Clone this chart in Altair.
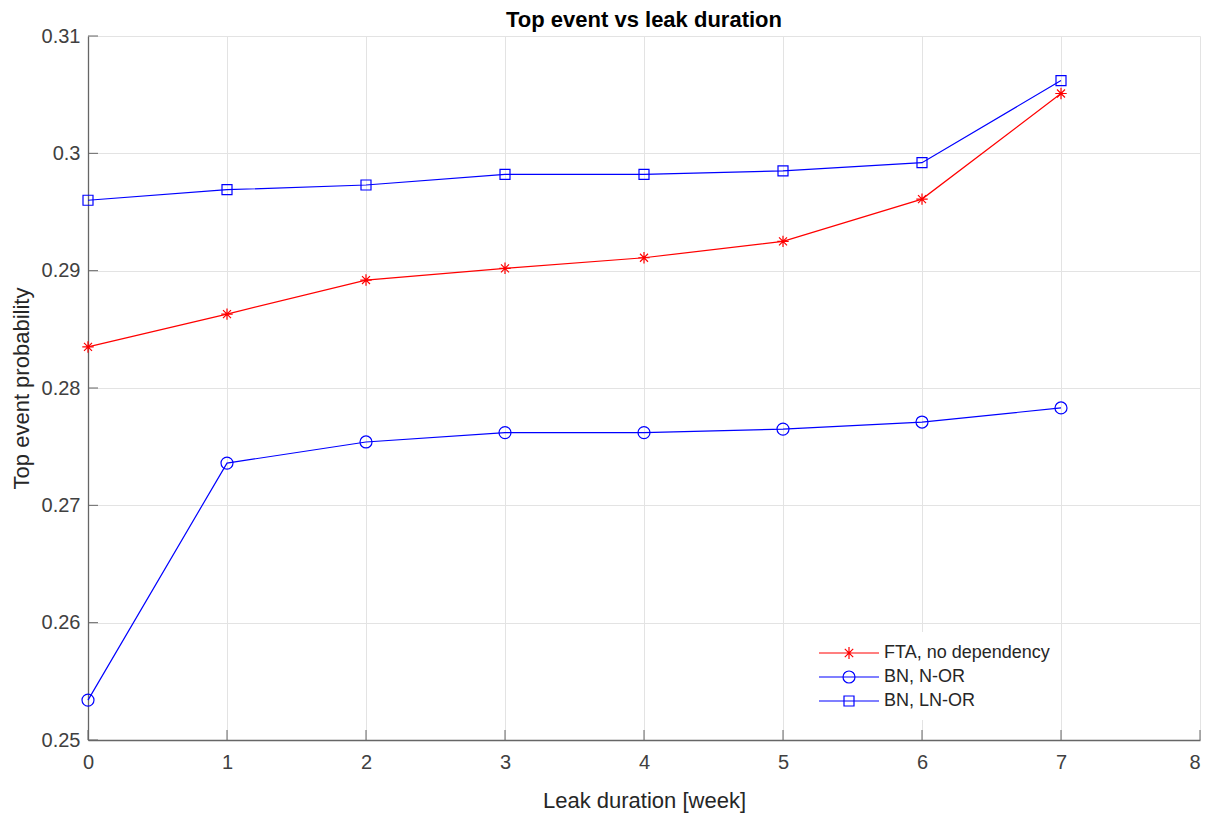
import altair as alt
import pandas as pd

# ---- data ----
weeks = [0, 1, 2, 3, 4, 5, 6, 7]
fta = [0.2835, 0.2863, 0.2892, 0.2902, 0.2911, 0.2925, 0.2961, 0.3051]
bn_nor = [0.2534, 0.2736, 0.2754, 0.2762, 0.2762, 0.2765, 0.2771, 0.2783]
bn_lnor = [0.2960, 0.2969, 0.2973, 0.2982, 0.2982, 0.2985, 0.2992, 0.3062]
series = ["FTA, no dependency", "BN, N-OR", "BN, LN-OR"]
colors = ["#ff0000", "#0000ff", "#0000ff"]
x_ticks = [0, 1, 2, 3, 4, 5, 6, 7, 8]
y_ticks = [0.25, 0.26, 0.27, 0.28, 0.29, 0.30, 0.31]

rows = []
for name, vals in zip(series, [fta, bn_nor, bn_lnor]):
    for w, v in zip(weeks, vals):
        rows.append({"week": w, "p": v, "series": name})
df = pd.DataFrame(rows)

W, H = 1112, 704
FONT = "Liberation Sans"

# marker shapes in plot
marker_shapes = [
    ("M0,-1L0,1M-1,0L1,0M-0.7,-0.7L0.7,0.7M-0.7,0.7L0.7,-0.7", 130),
    ("circle", 144),
    ("square", 100),
]
# legend symbols: line + marker (path units: 1 unit = 10 px)
legend_paths = [
    "M-3,0L3,0M0,-0.6L0,0.6M-0.42,-0.42L0.42,0.42M-0.42,0.42L0.42,-0.42",
    "M-3,0L3,0M0.6,0A0.6,0.6,0,1,1,-0.6,0A0.6,0.6,0,1,1,0.6,0Z",
    "M-3,0L3,0M-0.5,-0.5L0.5,-0.5L0.5,0.5L-0.5,0.5Z",
]

xscale = alt.Scale(domain=[0, 8], nice=False, zero=False)
yscale = alt.Scale(domain=[0.25, 0.31], nice=False, zero=False)
cscale = alt.Scale(domain=series, range=colors)

xaxis = alt.Axis(values=x_ticks, format="d", title="Leak duration [week]",
                 grid=True, tickSize=0, labelPadding=12, titlePadding=18, labelFlush=False,
                 labelAlign={"condition": {"test": "datum.value == 8", "value": "right"},
                             "value": "center"})
yaxis = alt.Axis(values=y_ticks, format=".2~f", title="Top event probability",
                 grid=True, tickSize=0, labelPadding=8, titlePadding=8, labelFlush=False)

base = alt.Chart(df)

layers = []
for i, name in enumerate(series):
    sub = base.transform_filter(alt.datum.series == name)
    enc = dict(x=alt.X("week:Q", scale=xscale, axis=xaxis),
               y=alt.Y("p:Q", scale=yscale, axis=yaxis))
    layers.append(sub.mark_line(strokeWidth=1.2, color=colors[i]).encode(**enc))
    shp, sz = marker_shapes[i]
    layers.append(sub.mark_point(shape=shp, size=sz, filled=False, strokeWidth=1.2,
                                 opacity=1, color=colors[i]).encode(x="week:Q", y="p:Q"))

legend = alt.Legend(
    title=None, orient="none", legendX=710, legendY=596,
    symbolSize=400, symbolStrokeWidth=1.2, symbolOpacity=1, symbolOffset=30,
    labelFontSize=18, labelFont=FONT, labelColor="#262626", labelOffset=24,
    labelLimit=400, fillColor="white", padding=10, rowPadding=4,
)
ghost = base.mark_point(filled=False, strokeWidth=1.2).encode(
    x="week:Q",
    y="p:Q",
    color=alt.Color("series:N", scale=cscale, legend=legend),
    shape=alt.Shape("series:N", scale=alt.Scale(domain=series, range=legend_paths), legend=legend),
    opacity=alt.value(0),
)

xt = pd.DataFrame({"t": x_ticks})
yt = pd.DataFrame({"t": y_ticks})
xticks = alt.Chart(xt).mark_rule(color="#666666", strokeWidth=1).encode(
    x=alt.X("t:Q", scale=xscale), y=alt.value(H), y2=alt.value(H - 10))
yticks = alt.Chart(yt).mark_rule(color="#666666", strokeWidth=1).encode(
    y=alt.Y("t:Q", scale=yscale), x=alt.value(0), x2=alt.value(10))

chart = alt.layer(*layers, ghost, xticks, yticks).properties(
    width=W, height=H,
    title=alt.Title("Top event vs leak duration", fontSize=22, fontWeight="bold",
                    font=FONT, color="#000000", offset=-6, anchor="middle", frame="group"),
    autosize=alt.AutoSizeParams(type="none"),
    padding={"left": 80, "top": 28, "right": 1, "bottom": 73},
).configure_view(stroke=None).configure_axis(
    labelFont=FONT, labelFontSize=20, labelColor="#404040",
    titleFont=FONT, titleFontSize=22, titleColor="#262626", titleFontWeight="normal",
    gridColor="#e3e3e3", gridWidth=1,
    domainColor="#666666", domainWidth=1.3,
)

chart.save("out.html", embed_options={"renderer": "svg", "actions": False})
